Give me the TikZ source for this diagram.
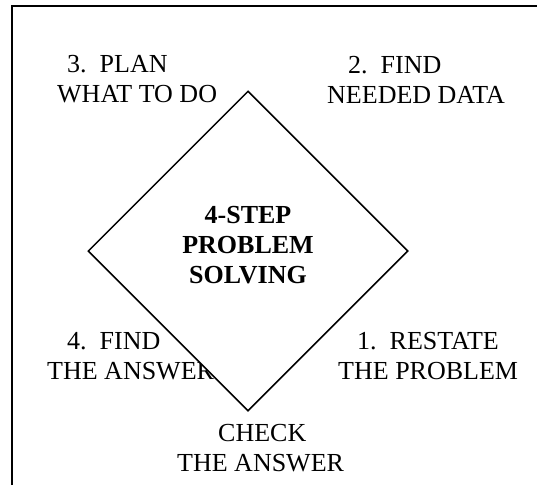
\documentclass[tikz,border=0pt]{standalone}
\usepackage{fontspec}
\setmainfont{Liberation Serif}
\usepackage{tikz}
\usetikzlibrary{shapes.geometric}
\newcommand\MidX{248}
\newcommand\MidY{251}
\newcommand\Half{160pt}
\newcommand\Lead{30}
\newcommand\StepFont{\fontsize{26}{30}\selectfont}
\tikzstyle{steptext}=[font=\StepFont,align=left,anchor=base west,inner sep=0pt]
\tikzstyle{hub}=[diamond,draw,line width=1.5pt,fill=white,inner sep=0pt,
                 minimum width=2*\Half,minimum height=2*\Half]
\tikzstyle{hubtext}=[font=\StepFont\bfseries,align=center,inner sep=0pt]

\begin{document}
\begin{tikzpicture}[x=1pt,y=-1pt]
      \useasboundingbox (0,0) rectangle (537,485);
      \draw[line width=1.8pt] (12,485) -- (12,6) -- (537,6);
      \node[steptext] (plan) at (57,72+\Lead) {\hspace*{10pt}3.\ \ PLAN\\WHAT TO DO};
      \node[steptext] (data) at (327,73+\Lead) {\hspace*{21pt}2.\ \ FIND\\NEEDED DATA};
      \node[steptext] (answer) at (47,349+\Lead) {\hspace*{20pt}4.\ \ FIND\\THE ANSWER};
      \node[steptext] (restate) at (338,349+\Lead) {\hspace*{19pt}1.\ \ RESTATE\\THE PROBLEM};
      \node[steptext] (check) at (177,441+\Lead) {\hspace*{41pt}CHECK\\THE ANSWER};
      \node[hub] (hub) at (\MidX,\MidY) {};
      \node[hubtext] (title) at ([yshift=6pt]hub.center) {4-STEP\\PROBLEM\\SOLVING};
   \end{tikzpicture}
\end{document}
